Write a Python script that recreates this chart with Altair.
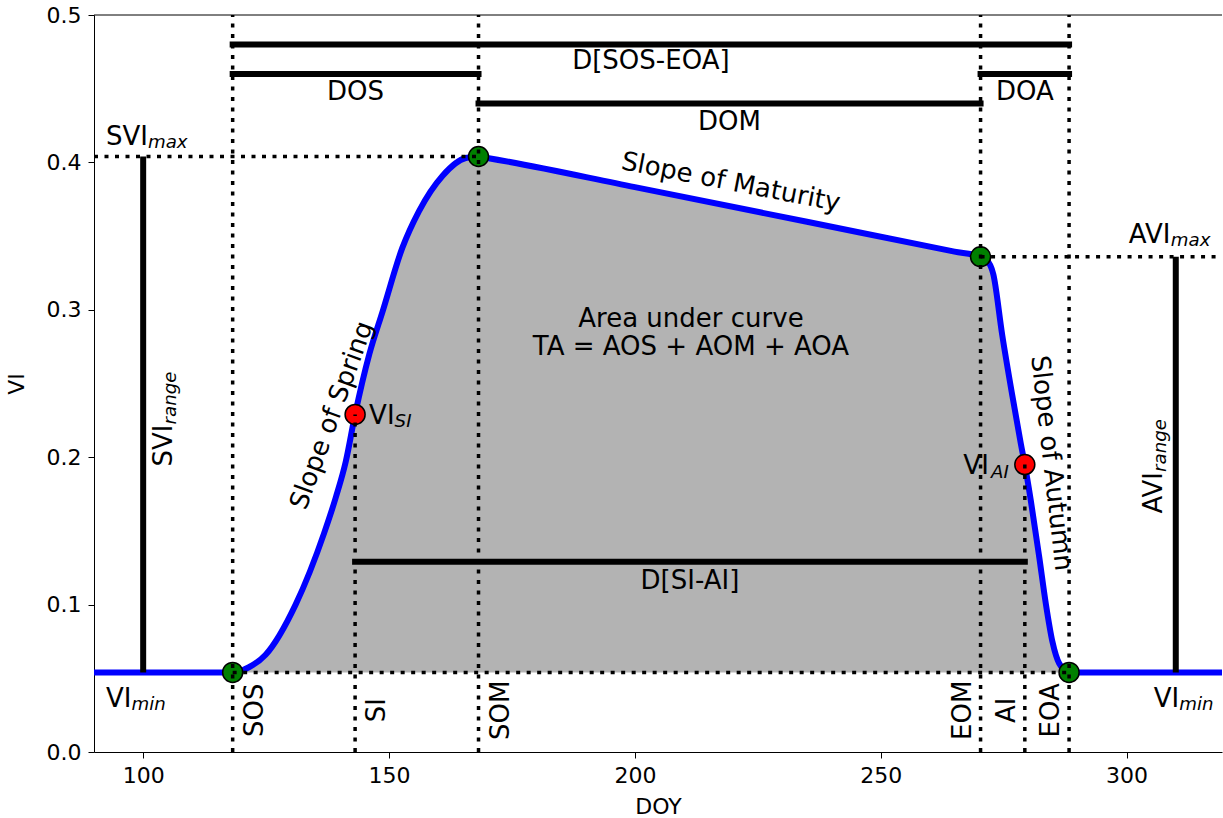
import altair as alt
import pandas as pd

# ---------------- data ----------------
event_names = ["SOS", "SI", "SOM", "EOM", "AI", "EOA"]
event_doy = [118.2, 143.1, 168.2, 270.3, 279.3, 288.3]
event_vi = [0.054, 0.229, 0.404, 0.336, 0.195, 0.054]
event_kind = ["start", "inflection", "start", "start", "inflection", "start"]

vi_min = 0.054
svi_max = 0.404
avi_max = 0.336

curve_doy = [90.0, 118.2, 121.5, 124.9, 131.0, 136.8, 139.2, 141.2, 143.1, 146.0,
             148.7, 152.7, 156.1, 160.9, 165.6, 168.2, 170.0, 200.0, 235.0, 265.0,
             270.3, 271.5, 272.9, 274.7, 276.8, 278.5, 279.3, 280.5, 282.2,
             283.6, 284.9, 286.3, 288.3, 320.0]
curve_vi = [0.054, 0.054, 0.0575, 0.066, 0.100, 0.1485, 0.173, 0.197, 0.229, 0.270,
            0.299, 0.342, 0.367, 0.391, 0.403, 0.404, 0.4030, 0.3832, 0.3597, 0.3395,
            0.336, 0.334, 0.324, 0.283, 0.241, 0.209, 0.195, 0.171, 0.133,
            0.100, 0.075, 0.060, 0.054, 0.054]

bar_names = ["D[SOS-EOA]", "DOS", "DOM", "DOA", "D[SI-AI]"]
bar_start = [118.2, 118.2, 168.2, 270.3, 143.1]
bar_end = [288.3, 168.2, 270.3, 288.3, 279.3]
bar_level = [0.48, 0.46, 0.44, 0.46, 0.129]
bar_label_dy = [17, 18, 19, 18, 19]

range_names = ["SVI", "AVI"]
range_doy = [100, 310]
range_top = [svi_max, avi_max]

x_ticks = [100, 150, 200, 250, 300]
y_ticks = [0.0, 0.1, 0.2, 0.3, 0.4, 0.5]

X_MIN, X_MAX = 90, 319.4
W, H = 1128, 737
FONT = "DejaVu Sans"
ANN = 26
SUB = 18.2

xs = alt.Scale(domain=[X_MIN, X_MAX], nice=False, zero=False)
ys = alt.Scale(domain=[0, 0.5], nice=False, zero=False)

curve = pd.DataFrame({"doy": curve_doy, "vi": curve_vi})
events = pd.DataFrame({"name": event_names, "doy": event_doy, "vi": event_vi, "kind": event_kind})
events["top"] = [0.5 if k == "start" else v for k, v in zip(event_kind, event_vi)]
events["bottom"] = 0.0
bars = pd.DataFrame({"name": bar_names, "x1": bar_start, "x2": bar_end, "y": bar_level})
ranges = pd.DataFrame({"name": range_names, "doy": range_doy, "top": range_top})
ranges["bottom"] = vi_min

hdots = pd.DataFrame({
    "x1": [X_MIN, event_doy[3], event_doy[0]],
    "x2": [event_doy[2], X_MAX, event_doy[5]],
    "y": [svi_max, avi_max, vi_min],
})

X = lambda f, **k: alt.X(f, scale=xs, **k)
Y = lambda f, **k: alt.Y(f, scale=ys, **k)

area_df = curve[(curve.doy >= event_doy[0]) & (curve.doy <= event_doy[5])].copy()
area_df["base"] = vi_min

area = alt.Chart(area_df).mark_area(color="#b3b3b3", interpolate="monotone").encode(
    x=X("doy:Q", axis=alt.Axis(values=x_ticks, title="DOY")),
    y=Y("vi:Q", axis=alt.Axis(values=y_ticks, format=".1f", title="VI")),
    y2="base:Q",
)

line = alt.Chart(curve).mark_line(color="#0000ff", strokeWidth=6, interpolate="monotone", clip=True).encode(
    x=X("doy:Q"), y=Y("vi:Q")
)

DOT = dict(color="black", strokeWidth=3.5, strokeDash=[4, 6.5])
dots_v = alt.Chart(events).mark_rule(**DOT).encode(
    x=X("doy:Q"), y=Y("bottom:Q"), y2="top:Q"
)
dots_h = alt.Chart(hdots).mark_rule(**DOT).encode(
    x=X("x1:Q"), x2="x2:Q", y=Y("y:Q")
)

solid_bars = alt.Chart(bars).mark_rule(color="black", strokeWidth=6, strokeCap="square").encode(
    x=X("x1:Q"), x2="x2:Q", y=Y("y:Q")
)
solid_ranges = alt.Chart(ranges).mark_rule(color="black", strokeWidth=6).encode(
    x=X("doy:Q"), y=Y("bottom:Q"), y2="top:Q"
)

markers = alt.Chart(events).mark_point(filled=True, size=400, stroke="black", strokeWidth=1.5, opacity=1).encode(
    x=X("doy:Q"), y=Y("vi:Q"),
    fill=alt.Fill("kind:N", scale=alt.Scale(domain=["start", "inflection"], range=["#008000", "#ff0000"]), legend=None),
)

top_spine = alt.Chart(pd.DataFrame({"a": [0]})).mark_rule(color="black", strokeWidth=1).encode(
    x=alt.value(0), x2=alt.value(W), y=alt.value(0)
)


def txt(df, xf, yf, text, size=ANN, style="normal", **props):
    return alt.Chart(df).mark_text(font=FONT, fontSize=size, fontStyle=style, color="black", **props).encode(
        x=X(xf), y=Y(yf), text=text
    )


layers = [area, line, solid_bars, solid_ranges, markers, dots_v, dots_h, top_spine]

# bar labels
for i, name in enumerate(bar_names):
    d = pd.DataFrame({"x": [(bar_start[i] + bar_end[i]) / 2], "y": [bar_level[i]], "t": [name]})
    layers.append(txt(d, "x:Q", "y:Q", "t:N", align="center", baseline="middle", dy=bar_label_dy[i]))

# event labels at bottom (rotated)
ev_lab = pd.DataFrame({"x": event_doy, "y": [0.0283] * 6, "t": event_names})
layers.append(txt(ev_lab.iloc[:3], "x:Q", "y:Q", "t:N", angle=270, align="center", baseline="middle", dy=22))
layers.append(txt(ev_lab.iloc[3:], "x:Q", "y:Q", "t:N", angle=270, align="center", baseline="middle", dy=-18))

# SVI_max / AVI_max
d = pd.DataFrame({"x": [X_MIN], "y": [svi_max]})
layers.append(txt(d, "x:Q", "y:Q", alt.value("SVI"), align="left", baseline="alphabetic", dx=12, dy=-12))
layers.append(txt(d, "x:Q", "y:Q", alt.value("max"), size=SUB, style="italic", align="left", baseline="alphabetic", dx=54, dy=-9))
d = pd.DataFrame({"x": [range_doy[1]], "y": [avi_max]})
layers.append(txt(d, "x:Q", "y:Q", alt.value("AVI"), align="left", baseline="alphabetic", dx=-47, dy=-14))
layers.append(txt(d, "x:Q", "y:Q", alt.value("max"), size=SUB, style="italic", align="left", baseline="alphabetic", dx=-5, dy=-11))

# VI_min labels
for xv, ddx in [(X_MIN, 12), (range_doy[1], -22)]:
    d = pd.DataFrame({"x": [xv], "y": [vi_min]})
    layers.append(txt(d, "x:Q", "y:Q", alt.value("VI"), align="left", baseline="alphabetic", dx=ddx, dy=35))
    layers.append(txt(d, "x:Q", "y:Q", alt.value("min"), size=SUB, style="italic", align="left", baseline="alphabetic", dx=ddx + 25.5, dy=38))

# range labels (rotated)
d = pd.DataFrame({"x": [range_doy[0]], "y": [(vi_min + svi_max) / 2]})
layers.append(txt(d, "x:Q", "y:Q", alt.value("SVI"), angle=270, align="left", baseline="alphabetic", dx=-52, dy=29))
layers.append(txt(d, "x:Q", "y:Q", alt.value("range"), size=SUB, style="italic", angle=270, align="left", baseline="alphabetic", dx=-10, dy=33))
d = pd.DataFrame({"x": [range_doy[1]], "y": [(vi_min + avi_max) / 2]})
layers.append(txt(d, "x:Q", "y:Q", alt.value("AVI"), angle=270, align="left", baseline="alphabetic", dx=-49, dy=-14))
layers.append(txt(d, "x:Q", "y:Q", alt.value("range"), size=SUB, style="italic", angle=270, align="left", baseline="alphabetic", dx=-7.4, dy=-10))

# VI_SI and VI_AI
d = pd.DataFrame({"x": [event_doy[1]], "y": [event_vi[1]]})
layers.append(txt(d, "x:Q", "y:Q", alt.value("VI"), align="left", baseline="alphabetic", dx=14, dy=9.5))
layers.append(txt(d, "x:Q", "y:Q", alt.value("SI"), size=SUB, style="italic", align="left", baseline="alphabetic", dx=39.5, dy=13))
d = pd.DataFrame({"x": [event_doy[4]], "y": [event_vi[4]]})
layers.append(txt(d, "x:Q", "y:Q", alt.value("VI"), align="right", baseline="alphabetic", dx=-36, dy=9.5))
layers.append(txt(d, "x:Q", "y:Q", alt.value("AI"), size=SUB, style="italic", align="right", baseline="alphabetic", dx=-16, dy=13))

# free annotations
notes = [
    ("Slope of Spring", 138.4, 0.2284, 290),
    ("Slope of Maturity", 219.5, 0.3865, 11),
    ("Slope of Autumn", 284.7, 0.196, 83.5),
    ("Area under curve", 211.4, 0.294, 0),
    ("TA = AOS + AOM + AOA", 211.4, 0.275, 0),
]
for t, xv, yv, ang in notes:
    d = pd.DataFrame({"x": [xv], "y": [yv]})
    layers.append(txt(d, "x:Q", "y:Q", alt.value(t), angle=ang, align="center", baseline="middle"))

chart = alt.layer(*layers).properties(
    width=W, height=H,
    autosize=alt.AutoSizeParams(type="none"),
    padding={"left": 94, "top": 15, "right": 1, "bottom": 66},
).configure_view(stroke=None).configure_axis(
    grid=False, domainColor="black", tickColor="black", labelColor="black", titleColor="black",
    labelFont=FONT, titleFont=FONT, labelFontSize=22, titleFontSize=22, titleFontWeight="normal",
    tickSize=6, labelPadding=7, domainWidth=1, tickWidth=1,
).configure_axisX(titlePadding=10).configure_axisY(titlePadding=18)

chart.save("out.html", embed_options={"renderer": "svg", "actions": False})
